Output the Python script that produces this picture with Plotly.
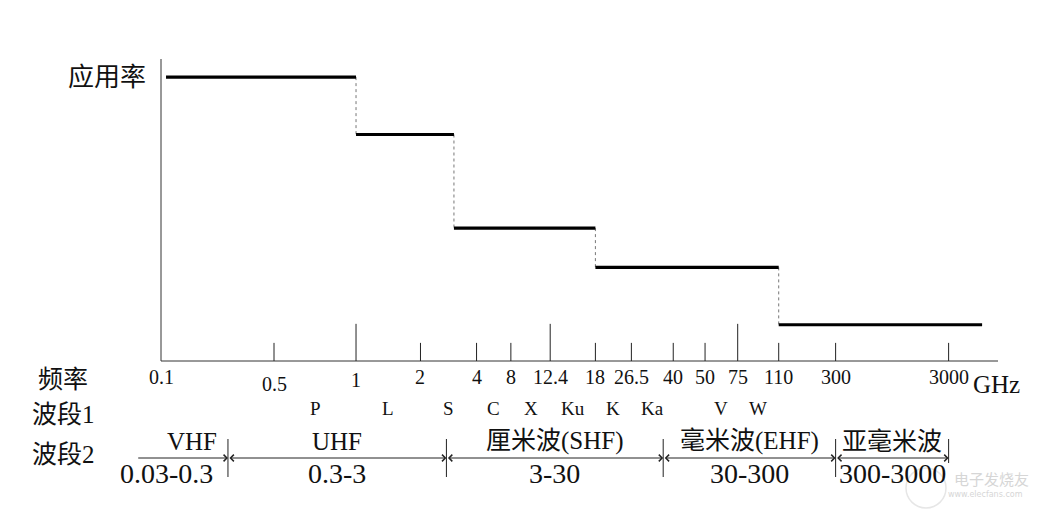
import plotly.graph_objects as go

# ---------------- data ----------------
tick_labels = ["0.1", "0.5", "1", "2", "4", "8", "12.4", "18", "26.5",
               "40", "50", "75", "110", "300", "3000"]
# schematic (non-logarithmic) axis positions of the frequency ticks
tick_pos = [0, 13.5, 23.3, 31.0, 37.7, 41.8, 46.5, 51.9, 56.2,
            61.2, 65.0, 68.9, 73.8, 80.6, 94.1]
major_ticks = ["1", "12.4", "75"]

# usage rate (应用率) step levels and their schematic x edges
rate_levels = [94, 75, 44, 31, 12]
step_edge_pos = [0.6, 23.3, 35.0, 51.9, 73.8, 98.1]

# band 1 (radar letter bands) with their frequency limits (GHz)
band1_names = ["P", "L", "S", "C", "X", "Ku", "K", "Ka", "V", "W"]
band1_lo = ["0.5", "1", "2", "4", "8", "12.4", "18", "26.5", "50", "75"]
band1_hi = ["1", "2", "4", "8", "12.4", "18", "26.5", "40", "75", "110"]

# band 2 (ITU-style bands)
band2_names = ["VHF", "UHF", "厘米波(SHF)", "毫米波(EHF)", "亚毫米波"]
band2_ranges = ["0.03-0.3", "0.3-3", "3-30", "30-300", "300-3000"]
band2_edge_pos = [-2.9, 8.0, 34.1, 60.0, 80.6, 94.1]

row_labels = ["频率", "波段1", "波段2"]

# ---------------- figure ----------------
# the page body has an 8px margin, so the figure is 8px smaller and the
# axis ranges are set so that the plot sits where the reference has it
W, H = 1034, 504
PX_X, PX_Y = 8.37, 3.02          # pixels per unit
X0_PX, Y0_PX = 161, 361          # screen position of the origin


def ux(px):
    return (px - X0_PX) / PX_X


def uy(py):
    return (Y0_PX - py) / PX_Y


X_RANGE = [ux(8), ux(1042)]
Y_RANGE = [uy(512), uy(8)]

LAT = "Liberation Serif, Noto Sans CJK SC, serif"
BLACK = "#111111"

pos = dict(zip(tick_labels, tick_pos))
fig = go.Figure()

# axes lines
fig.add_trace(go.Scatter(x=[0, 0, None, 0, 100], y=[100, 0, None, 0, 0],
                         mode="lines", line=dict(color="#333333", width=1),
                         hoverinfo="skip", showlegend=False))

# tick marks
tx, ty = [], []
for lab, p in zip(tick_labels[1:], tick_pos[1:]):
    h = 12.3 if lab in major_ticks else 6.0
    tx += [p, p, None]
    ty += [0, h, None]
fig.add_trace(go.Scatter(x=tx, y=ty, mode="lines",
                         line=dict(color="#222222", width=1),
                         hoverinfo="skip", showlegend=False))

# dotted connectors of the steps
cx, cy = [], []
for i in range(1, len(rate_levels)):
    cx += [step_edge_pos[i], step_edge_pos[i], None]
    cy += [rate_levels[i - 1], rate_levels[i], None]
fig.add_trace(go.Scatter(x=cx, y=cy, mode="lines",
                         line=dict(color="#777777", width=1, dash="dot"),
                         hoverinfo="skip", showlegend=False))

# step levels
sx, sy = [], []
for i, lvl in enumerate(rate_levels):
    sx += [step_edge_pos[i], step_edge_pos[i + 1], None]
    sy += [lvl, lvl, None]
fig.add_trace(go.Scatter(x=sx, y=sy, mode="lines",
                         line=dict(color="#000000", width=3.2),
                         hoverinfo="skip", showlegend=False))

# band 2 separators
BAND2_LINE_Y = uy(458)
vx, vy = [], []
for j, p in enumerate(band2_edge_pos[1:]):
    bottom = uy(463) if j == len(band2_edge_pos) - 2 else uy(477)
    vx += [p, p, None]
    vy += [uy(439), bottom, None]
fig.add_trace(go.Scatter(x=vx, y=vy, mode="lines",
                         line=dict(color="#222222", width=1),
                         hoverinfo="skip", showlegend=False))

# watermark logo circle
fig.add_trace(go.Scatter(x=[ux(926)], y=[uy(488)], mode="markers",
                         marker=dict(symbol="circle-open", size=40,
                                     color="#e6e6e6", line=dict(width=1.5)),
                         hoverinfo="skip", showlegend=False))

ann = []


def txt(x, y, s, size, xanchor="center", yanchor="middle", yshift=0,
        xshift=0, color=BLACK, family=LAT):
    ann.append(dict(x=x, y=y, xref="x", yref="y", text=s, showarrow=False,
                    xanchor=xanchor, yanchor=yanchor, yshift=yshift,
                    xshift=xshift,
                    font=dict(family=family, size=size, color=color)))


# tick labels
label_drop = {"0.5": -7, "1": -3}
for lab, p in zip(tick_labels, tick_pos):
    txt(p, uy(376.5), lab, 20, yshift=label_drop.get(lab, 0))
txt(ux(971), uy(384), "GHz", 25, xanchor="left")

# y label
txt(ux(148), rate_levels[0], "应用率", 26, xanchor="right")

# row labels
txt(ux(63), uy(379), row_labels[0], 25)
txt(ux(30), uy(414), row_labels[1], 25, xanchor="left")
txt(ux(30), uy(454), row_labels[2], 25, xanchor="left")

# band 1 letters
for name, lo, hi in zip(band1_names, band1_lo, band1_hi):
    txt((pos[lo] + pos[hi]) / 2, uy(408), name, 19)

# band 2 names, ranges, arrows
for i, (name, rng) in enumerate(zip(band2_names, band2_ranges)):
    a, b = band2_edge_pos[i], band2_edge_pos[i + 1]
    mid = (a + b) / 2
    shift_n = 10 if i == 0 else 0
    shift_r = -16 if i == 0 else 0
    txt(mid, uy(441), name, 25, xshift=shift_n)
    txt(mid, uy(473), rng, 28, xshift=shift_r)
    ann.append(dict(x=b, y=BAND2_LINE_Y, ax=a, ay=BAND2_LINE_Y,
                    xref="x", yref="y", axref="x", ayref="y", text="",
                    showarrow=True, arrowhead=4, arrowsize=1.3,
                    arrowwidth=1, arrowcolor="#222222",
                    startarrowhead=4, startarrowsize=1.3,
                    arrowside="end" if i == 0 else "end+start",
                    standoff=0, startstandoff=0))

# watermark text
txt(ux(952), uy(478), "电子发烧友", 15, xanchor="left", color="#d6d6d6",
    family="Noto Sans CJK SC")
txt(ux(946), uy(494), "www.elecfans.com", 8, xanchor="left",
    color="#d6d6d6", family="DejaVu Sans")

fig.update_layout(
    width=W, height=H,
    margin=dict(l=0, r=0, t=0, b=0),
    paper_bgcolor="white", plot_bgcolor="white",
    xaxis=dict(range=X_RANGE, visible=False, fixedrange=True),
    yaxis=dict(range=Y_RANGE, visible=False, fixedrange=True),
    annotations=ann,
    showlegend=False,
)

fig.write_html("out.html")
